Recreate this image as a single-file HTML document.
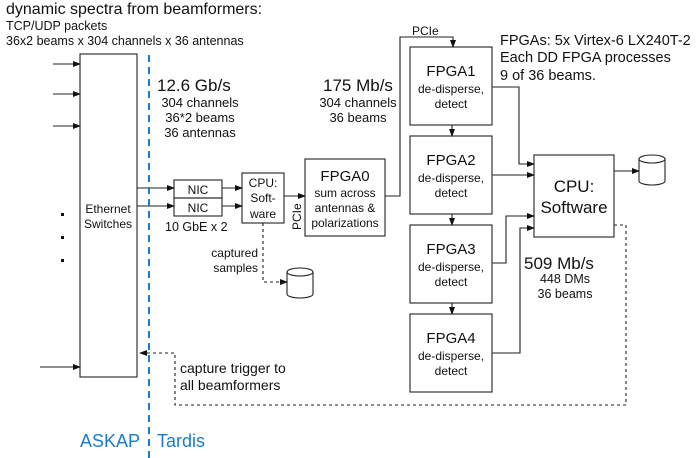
<!DOCTYPE html>
<html><head><style>body{margin:0;background:#fff}svg{display:block}text{font-family:"Liberation Sans",sans-serif;fill:#111}</style></head>
<body>
<svg width="698" height="458" viewBox="0 0 698 458" xmlns="http://www.w3.org/2000/svg">
<defs><marker id="a" markerWidth="8" markerHeight="8" refX="7" refY="4" orient="auto" markerUnits="userSpaceOnUse"><path d="M0,1 L8,4 L0,7z" fill="#111"/></marker></defs>
<text x="6" y="14" font-size="16">dynamic spectra from beamformers:</text>
<text x="6" y="30" font-size="12.5">TCP/UDP packets</text>
<text x="6" y="45" font-size="12.5">36x2 beams x 304 channels x 36 antennas</text>
<g stroke="#222" stroke-width="1.1" fill="none">
<rect x="80" y="54" width="57" height="323" fill="#fff"/>
<line x1="53" y1="64" x2="80" y2="64" marker-end="url(#a)"/>
<line x1="53" y1="94" x2="80" y2="94" marker-end="url(#a)"/>
<line x1="53" y1="126" x2="80" y2="126" marker-end="url(#a)"/>
<line x1="40" y1="367" x2="80" y2="367" marker-end="url(#a)"/>
<rect x="174" y="180" width="48" height="18"/>
<rect x="174" y="198" width="48" height="18"/>
<line x1="137" y1="188" x2="174" y2="188" marker-end="url(#a)"/>
<line x1="137" y1="206" x2="174" y2="206" marker-end="url(#a)"/>
<rect x="242" y="173" width="42" height="50"/>
<line x1="222" y1="188" x2="242" y2="188" marker-end="url(#a)"/>
<line x1="222" y1="206" x2="242" y2="206" marker-end="url(#a)"/>
<rect x="305" y="159" width="80" height="77"/>
<line x1="284" y1="196" x2="305" y2="196" marker-end="url(#a)"/>
<polyline points="385,196 400,196 400,37 453,37 453,47" marker-end="url(#a)"/>
<rect x="410" y="47" width="82" height="78"/>
<rect x="410" y="136" width="82" height="78"/>
<rect x="410" y="225" width="82" height="78"/>
<rect x="410" y="314" width="82" height="78"/>
<line x1="452" y1="125" x2="452" y2="136" marker-end="url(#a)"/>
<line x1="452" y1="214" x2="452" y2="225" marker-end="url(#a)"/>
<line x1="452" y1="303" x2="452" y2="314" marker-end="url(#a)"/>
<rect x="534" y="155" width="80" height="82"/>
<polyline points="492,87 519,87 519,164 534,164" marker-end="url(#a)"/>
<line x1="492" y1="175" x2="534" y2="175" marker-end="url(#a)"/>
<polyline points="492,263 506,263 506,216 534,216" marker-end="url(#a)"/>
<polyline points="492,353 520,353 520,228 534,228" marker-end="url(#a)"/>
<line x1="614" y1="171" x2="639" y2="171" marker-end="url(#a)"/>
<path d="M639,159 v22 a13,4 0 0 0 26,0 v-22 a13,4 0 0 0 -26,0 a13,4 0 0 0 26,0"/>
<path d="M287,272 v22 a13,4 0 0 0 26,0 v-22 a13,4 0 0 0 -26,0 a13,4 0 0 0 26,0"/>
<g stroke-dasharray="3,3">
<polyline points="263,223 263,282 287,282" marker-end="url(#a)"/>
<polyline points="614,225 626,225 626,405 175,405 175,353 140,353" marker-end="url(#a)"/>
</g>
</g>
<line x1="149" y1="55" x2="149" y2="458" stroke="#1a7bc9" stroke-width="2" stroke-dasharray="7,5"/>
<g fill="#111">
<rect x="61" y="213" width="3" height="3"/><rect x="61" y="236" width="3" height="3"/><rect x="61" y="259" width="3" height="3"/>
</g>
<g font-size="12" text-anchor="middle">
<text x="108" y="213">Ethernet</text><text x="108" y="228">Switches</text>
<text x="198" y="194">NIC</text><text x="198" y="212">NIC</text>
<text x="263" y="187">CPU:</text><text x="263" y="202">Soft-</text><text x="263" y="218">ware</text>
<text x="345" y="181" font-size="15">FPGA0</text>
<text x="345" y="197">sum across</text><text x="345" y="212">antennas &amp;</text><text x="345" y="227">polarizations</text>
<text x="200" y="107" font-size="13">304 channels</text><text x="200" y="122" font-size="13">36*2 beams</text><text x="200" y="137" font-size="13">36 antennas</text>
<text x="358" y="107" font-size="13">304 channels</text><text x="358" y="122" font-size="13">36 beams</text>
<text x="451" y="76" font-size="15">FPGA1</text><text x="451" y="93">de-disperse,</text><text x="451" y="108">detect</text>
<text x="451" y="165" font-size="15">FPGA2</text><text x="451" y="182">de-disperse,</text><text x="451" y="197">detect</text>
<text x="451" y="254" font-size="15">FPGA3</text><text x="451" y="271">de-disperse,</text><text x="451" y="286">detect</text>
<text x="451" y="343" font-size="15">FPGA4</text><text x="451" y="360">de-disperse,</text><text x="451" y="375">detect</text>
<text x="574" y="192" font-size="17">CPU:</text><text x="574" y="213" font-size="17">Software</text>
<text x="565" y="283" font-size="12.5">448 DMs</text><text x="565" y="298" font-size="12.5">36 beams</text>
</g>
<text x="157" y="91" font-size="17">12.6 Gb/s</text>
<text x="323" y="91" font-size="17">175 Mb/s</text>
<text x="524" y="269" font-size="17">509 Mb/s</text>
<text x="412" y="35" font-size="12">PCIe</text>
<text x="165" y="231" font-size="12.5">10 GbE x 2</text>
<text x="258" y="257" font-size="12" text-anchor="end">captured</text>
<text x="258" y="272" font-size="12" text-anchor="end">samples</text>
<text x="301" y="230" font-size="12" transform="rotate(-90 301 230)">PCIe</text>
<text x="500" y="45" font-size="14.5">FPGAs: 5x Virtex-6 LX240T-2</text>
<text x="500" y="62" font-size="14.5">Each DD FPGA processes</text>
<text x="500" y="80" font-size="14.5">9 of 36 beams.</text>
<text x="180" y="373" font-size="14">capture trigger to</text>
<text x="180" y="390" font-size="14">all beamformers</text>
<text x="80" y="447" font-size="18" style="fill:#1a7bc9">ASKAP</text>
<text x="157" y="447" font-size="18" style="fill:#1a7bc9">Tardis</text>
</svg>
</body></html>
